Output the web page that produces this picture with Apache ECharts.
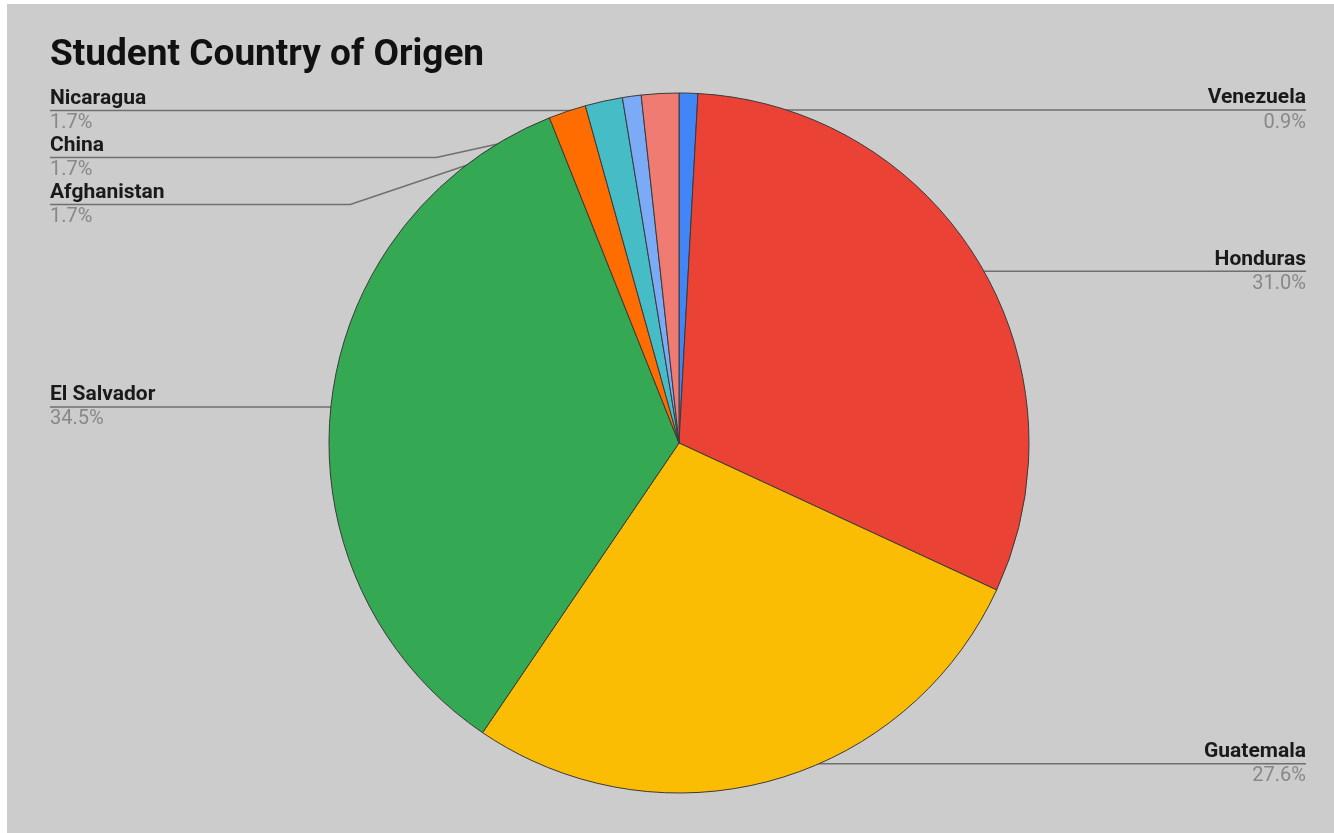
<!DOCTYPE html>
<html>
<head>
<meta charset="utf-8">
<script src="https://cdn.jsdelivr.net/npm/echarts@6/dist/echarts.min.js"></script>
<style>
  html, body { margin: 0; padding: 0; background: #fff; overflow: hidden; }
  #container {
    position: absolute;
    left: 7px;
    top: 4px;
    width: 1342px;
    height: 829px;
    background: #cccccc;
  }
</style>
</head>
<body>
<div id="container"></div>
<script>
// student counts per country (percentages, total 116)
var countries = ["Venezuela", "Honduras", "Guatemala", "El Salvador", "Afghanistan", "China", "Other", "Nicaragua"];
var students = [1, 36, 32, 40, 2, 2, 1, 2];
var colors = ["#4285F4", "#EA4335", "#FBBC04", "#34A853", "#FF6D01", "#46BDC6", "#7BAAF7", "#F07B72"];
var hiddenLabels = ["Other"];

var chartDom = document.getElementById("container");
var myChart = echarts.init(chartDom);

var pieData = countries.map(function(name, i) {
  return { name: name, value: students[i], itemStyle: { color: colors[i] } };
});
var labelData = countries.map(function(name, i) {
  var item = { name: name, value: students[i] };
  if (hiddenLabels.indexOf(name) > -1) {
    item.label = { show: false };
    item.labelLine = { show: false };
  }
  return item;
});

var center = [672, 439];

var option = {
  backgroundColor: "#cccccc",
  title: {
    text: "Student Country of Origen",
    left: 43,
    top: 33,
    padding: 0,
    textStyle: {
      fontFamily: "Roboto",
      fontWeight: "bold",
      fontSize: 37,
      color: "#111"
    }
  },
  series: [
    {
      type: "pie",
      center: center,
      radius: 350,
      startAngle: 90,
      data: pieData,
      silent: true,
      label: { show: false },
      labelLine: { show: false },
      itemStyle: { borderColor: "#3a3a3a", borderWidth: 1 }
    },
    {
      // invisible ring, only used to anchor the labels inside the slices
      type: "pie",
      center: center,
      radius: 331,
      startAngle: 90,
      data: labelData,
      silent: true,
      itemStyle: { color: "transparent" },
      label: {
        show: true,
        position: "outside",
        alignTo: "edge",
        edgeDistance: 43,
        formatter: function(params) {
          return "{n|" + params.name + "}\n{p|" + params.percent.toFixed(1) + "%}";
        },
        rich: {
          n: {
            fontFamily: "Roboto",
            fontWeight: "bold",
            fontSize: 21,
            color: "#1a1a1a",
            lineHeight: 25
          },
          p: {
            fontFamily: "Roboto",
            fontSize: 20,
            color: "#888888",
            lineHeight: 24
          }
        }
      },
      labelLine: {
        show: true,
        length: 2,
        length2: 10,
        lineStyle: { color: "#6f6f6f", width: 1.5 }
      },
      labelLayout: function(params) {
        var pts = params.labelLinePoints;
        if (!pts) return {};
        var r = params.labelRect;
        var last = pts[pts.length - 1];
        var isLeft = r.x + r.width / 2 < center[0];
        last[0] = isLeft ? r.x : r.x + r.width;
        return { labelLinePoints: pts };
      }
    }
  ]
};
option && myChart.setOption(option);
</script>
</body>
</html>
